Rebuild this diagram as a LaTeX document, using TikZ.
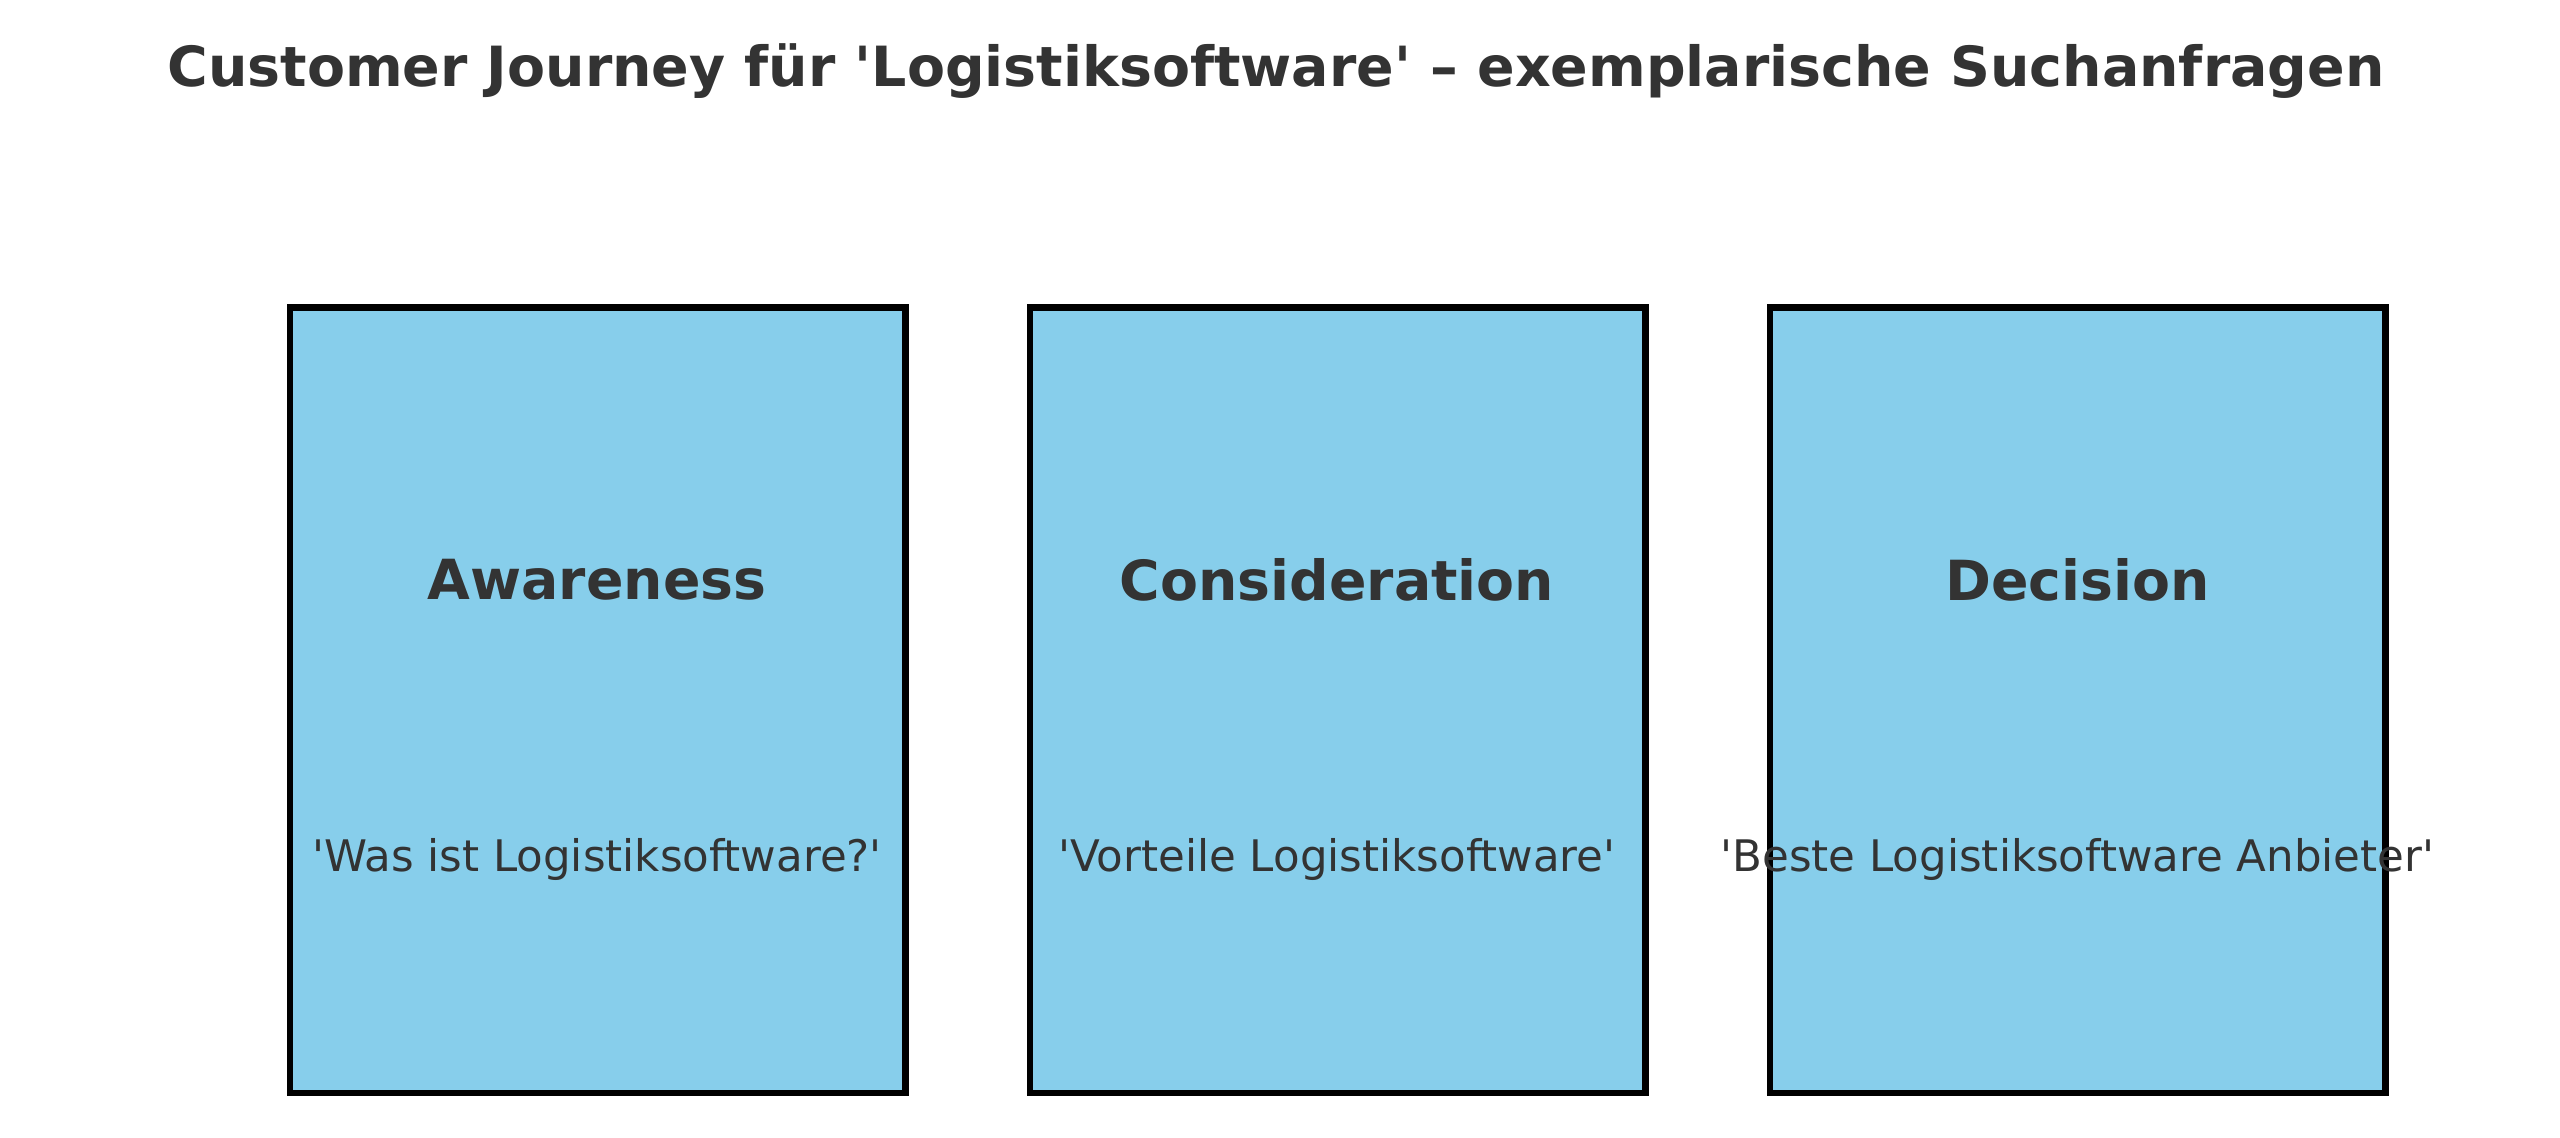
\documentclass[tikz,border=0pt]{standalone}
\usepackage{fontspec}
\setmainfont{DejaVu Sans}[Ligatures=TeXOff]
\definecolor{skyfill}{HTML}{87CEEB}
\definecolor{inktext}{HTML}{333333}
\tikzset{
	stageframe/.style={fill=black,minimum width=622pt,minimum height=792pt,inner sep=0pt},
	stagebox/.style={fill=skyfill,minimum width=609pt,minimum height=779pt,inner sep=0pt},
	titletext/.style={text=inktext,font=\fontsize{55.4}{55.4}\selectfont\bfseries},
	stagename/.style={text=inktext,font=\fontsize{55.3}{55.3}\selectfont\bfseries},
	stagequery/.style={text=inktext,font=\fontsize{43.5}{43.5}\selectfont},
}
\begin{document}
\begin{tikzpicture}[x=1pt,y=-1pt]
	\useasboundingbox (0,0) rectangle (2560,1138);
	\node[titletext] (title) at (1276,71.5) {Customer Journey für 'Logistiksoftware' – exemplarische Suchanfragen};
	\node[stageframe] (awarenessframe) at (597.5,699.5) {};
	\node[stageframe] (considerationframe) at (1337.5,699.5) {};
	\node[stageframe] (decisionframe) at (2077.5,699.5) {};
	\node[stagebox] (awareness) at (597.5,700.5) {};
	\node[stagebox] (consideration) at (1337.5,700.5) {};
	\node[stagebox] (decision) at (2077.5,700.5) {};
	\node[stagename] (awarenessname) at (597,579.5) {Awareness};
	\node[stagename] (considerationname) at (1337,579.5) {Consideration};
	\node[stagename] (decisionname) at (2077.5,579.5) {Decision};
	\node[stagequery] (awarenessquery) at (597,859.5) {'Was ist Logistiksoftware?'};
	\node[stagequery] (considerationquery) at (1337,859.5) {'Vorteile Logistiksoftware'};
	\node[stagequery] (decisionquery) at (2077.5,859.5) {'Beste Logistiksoftware Anbieter'};
\end{tikzpicture}
\end{document}
